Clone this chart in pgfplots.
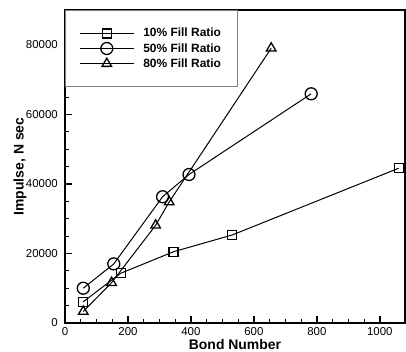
\documentclass[border=0pt]{standalone}
\usepackage{fontspec}
\setmainfont{Liberation Sans}
\usepackage{pgfplots}
\pgfplotsset{compat=1.18}
\begin{document}
\begin{tikzpicture}
\begin{axis}[
  scale only axis,
  width=340bp, height=313bp,
  xmin=0, xmax=1080, ymin=0, ymax=90000,
  xtick={0,200,...,1000},
  ytick={0,20000,...,80000},
  minor x tick num=3,
  minor y tick num=3,
  xtick pos=left, ytick pos=left,
  tick align=inside,
  major tick length=7bp, minor tick length=4bp,
  every major tick/.style={line width=1.6pt, black},
  every minor tick/.style={line width=0.8pt, black},
  axis line style={line width=2.2pt},
  /pgf/number format/assume math mode=true,
  /pgf/number format/1000 sep={},
  scaled y ticks=false,
  ticklabel style={font=\fontsize{11.5}{13}\selectfont},
  xticklabel style={anchor=north, inner sep=0pt, yshift=-4bp},
  yticklabel style={anchor=east, inner sep=0pt, xshift=-7bp},
  xlabel={\bfseries Bond Number},
  ylabel={\bfseries Impulse, N sec},
  label style={font=\fontsize{14}{16}\selectfont},
  xlabel style={at={(axis description cs:0.5,0)}, anchor=north, inner sep=0pt, yshift=-16bp},
  ylabel style={at={([xshift=-45bp]axis description cs:0,0.5)}, anchor=center, inner sep=0pt, rotate=0},
  legend style={at={(0,1)}, anchor=north west, draw=gray, line width=0.6pt,
    inner xsep=14bp, inner ysep=16bp, row sep=1bp,
    font=\fontsize{12}{14}\selectfont\bfseries},
  legend cell align=left,
  legend image code/.code={\draw[mark repeat=2,mark phase=2] plot coordinates {(0bp,0bp)(27bp,0bp)(54bp,0bp)}; \path (61bp,0bp);},
  every axis plot/.append style={black, line width=1pt, mark options={solid, fill=white, line width=1.3pt}},
]
\addplot[mark=square, mark size=4.5bp] coordinates {
 (58,6100) (177,14300) (345,20500) (531,25300) (1060,44500)};
\addlegendentry{10\% Fill Ratio}
\addplot[mark=o, mark size=6bp] coordinates {
 (58,10000) (155,17000) (310,36300) (394,42700) (782,65900)};
\addlegendentry{50\% Fill Ratio}
\addplot[mark=triangle, mark size=5.5bp] coordinates {
 (58,3300) (148,11600) (288,28100) (331,34800) (655,79000)};
\addlegendentry{80\% Fill Ratio}
\end{axis}
\pgfresetboundingbox
\path[use as bounding box] ([shift={(-65bp,-29bp)}]current axis.south west) rectangle ([shift={(1bp,10bp)}]current axis.north east);
\end{tikzpicture}
\end{document}
